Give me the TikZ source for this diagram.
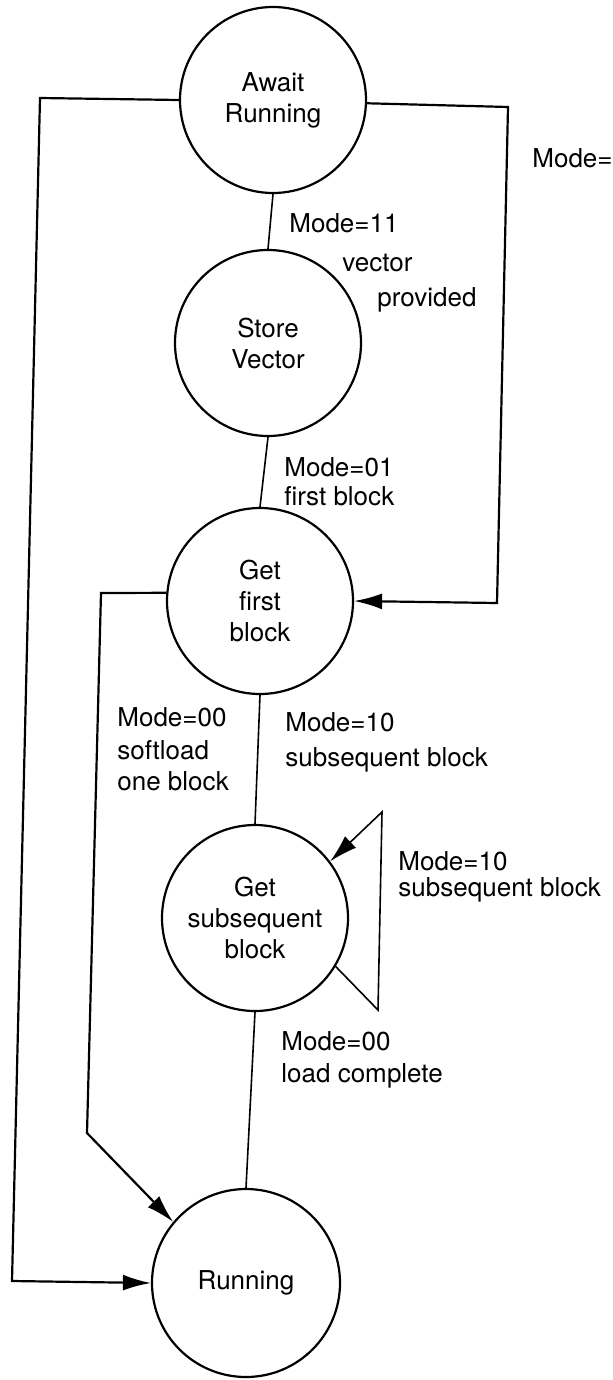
\documentclass[tikz,border=0pt]{standalone}
\usepackage{fontspec}
\setmainfont{TeX Gyre Heros}
\usetikzlibrary{arrows.meta}
\newcommand\statetext{\fontsize{13}{15.5}\selectfont}
\newcommand\lbltext{\fontsize{13}{15.5}\selectfont}
\begin{document}
\begin{tikzpicture}[x=0.5pt,y=-0.5pt,
  state/.style={draw, circle, line width=1.1pt, minimum size=93pt, inner sep=0pt,
                align=center, font=\statetext},
  lbl/.style={anchor=west, inner sep=0pt, text height=9.4pt, text depth=0pt, font=\lbltext},
  conn/.style={line width=0.8pt},
  loopline/.style={line width=1.1pt, line join=miter},
  tip/.style={-{Latex[length=14pt,width=8pt]}}]
\fill[white] (0,0) rectangle (613,1380);
\useasboundingbox (0,0) rectangle (613,1380);

% states
\node[state] (await)  at (273,100)  {Await\\Running};
\node[state] (store)  at (268,343)  {Store\\Vector};
\node[state] (first)  at (260,601)  {Get\\first\\block};
\node[state] (subseq) at (255,918)  {Get\\subsequent\\block};
\node[state, minimum size=94pt] (run) at (246,1283) {Running};

% main chain
\draw[conn] (await.south) -- (store.north);
\draw[conn] (store.south) -- (first.north);
\draw[conn] (first.south) -- (subseq.north);
\draw[conn] (subseq.south) -- (run.north);

% bends of the outer paths
\coordinate (lt) at (40,98);
\coordinate (lb) at (12,1281);
\coordinate (rt) at (508,107);
\coordinate (rb) at (497,603);
\coordinate (it) at (101,593);
\coordinate (ib) at (87,1133);
\coordinate (sb) at (378,1010);
\coordinate (st) at (382,812);

% await -> running
\draw[loopline, tip] (await.west) -- (lt) -- (lb) -- (run.west);
% await -> get first block
\draw[loopline, tip] (await.-2) -- (rt) -- (rb) -- (first.east);
% get first block -> running
\draw[loopline, tip] (first.175) -- (it) -- (ib) -- (run.140);
% self loop on get subsequent block
\draw[conn, tip] (subseq.-31) -- (sb) -- (st) -- (subseq.37);

% transition labels
\node[lbl] (m11a) at (289,223) {Mode=11};
\node[lbl] (m11b) at (342,262) {vector};
\node[lbl] (m11c) at (377,297) {provided};

\node[lbl] (m01a) at (284,467) {Mode=01};
\node[lbl] (m01b) at (284,496) {first block};

\node[lbl] (m00a) at (117,717) {Mode=00};
\node[lbl] (m00b) at (117,750) {softload};
\node[lbl] (m00c) at (117,781) {one block};

\node[lbl] (m10a) at (285,722) {Mode=10};
\node[lbl] (m10b) at (285,757) {subsequent block};

\node[lbl] (r10a) at (398,861) {Mode=10};
\node[lbl] (r10b) at (398,887) {subsequent block};

\node[lbl] (lc0) at (281,1041) {Mode=00};
\node[lbl] (lc1) at (281,1073) {load complete};

\node[lbl] (edge) at (532,158) {Mode=};
\end{tikzpicture}
\end{document}
